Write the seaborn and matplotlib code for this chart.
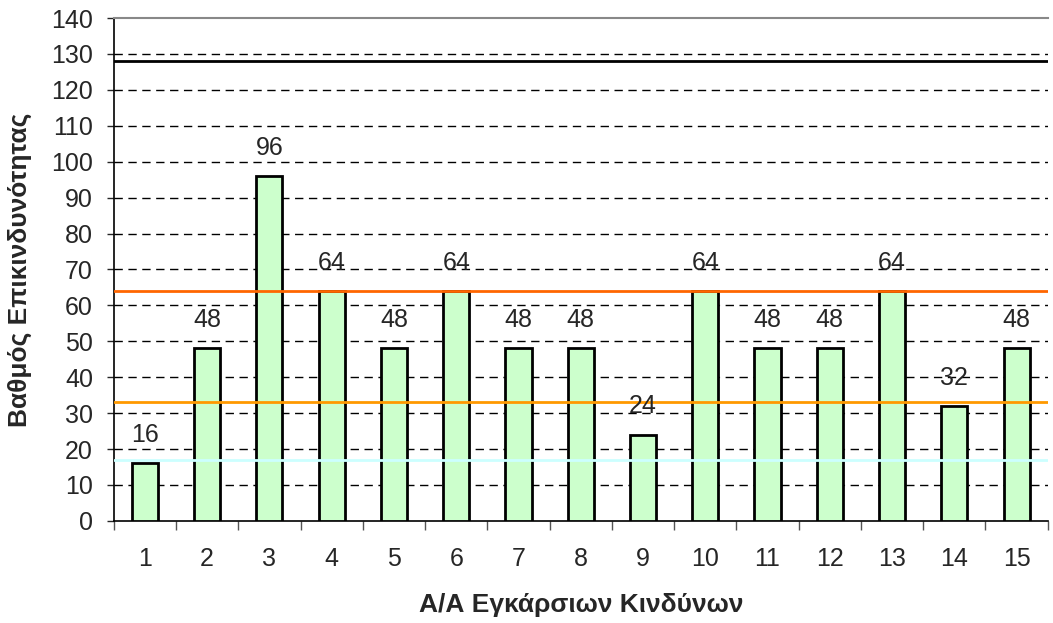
import matplotlib
matplotlib.use("Agg")
import matplotlib.pyplot as plt
import numpy as np
import pandas as pd
import seaborn as sns

# Δεδομένα
kindynoi = [str(i) for i in range(1, 16)]
vathmos = [16, 48, 96, 64, 48, 64, 48, 48, 24, 64, 48, 48, 64, 32, 48]

# οριζόντιες γραμμές ορίων
oria = [128, 64, 33, 17]
oria_xromata = ["black", "#ff6600", "#ff9900", "#ccffff"]

yticks = list(range(0, 141, 10))


def main():
    sns.set_theme(style="white")
    plt.rcParams["font.family"] = ["Liberation Sans", "DejaVu Sans"]

    df = pd.DataFrame({"kindynos": kindynoi, "vathmos": vathmos})

    fig = plt.figure(figsize=(10.53, 6.23), dpi=100)
    ax = fig.add_axes([0.108, 0.164, 0.887, 0.807])

    sns.barplot(data=df, x="kindynos", y="vathmos", ax=ax, color="#ccffcc",
                saturation=1, width=0.42, edgecolor="black", linewidth=2, zorder=3)

    for y, c in zip(oria, oria_xromata):
        ax.axhline(y, color=c, linewidth=2, zorder=4)

    for i, v in enumerate(vathmos):
        ax.text(i, v + 4.5, str(v), ha="center", va="bottom", fontsize=18, zorder=5)

    ax.set_ylim(0, 140)
    ax.set_xlim(-0.5, 14.5)
    ax.set_yticks(yticks)
    for y in yticks[1:-1]:
        ax.axhline(y, color="black", linewidth=1, linestyle=(0, (6, 4)), zorder=1)

    # σημάδια άξονα x στα όρια των κατηγοριών
    ax.set_xticks(np.arange(-0.5, 15, 1), minor=True)
    ax.tick_params(axis="x", which="major", length=0, labelsize=18, pad=19)
    ax.tick_params(axis="x", which="minor", length=6.5, width=1, color="#555555", direction="out",
                   bottom=True)
    ax.tick_params(axis="y", length=5, width=1, direction="out", left=True, labelsize=18, pad=10)

    for s in ["left", "bottom"]:
        ax.spines[s].set_color("black")
        ax.spines[s].set_linewidth(1.2)
    ax.spines["right"].set_visible(False)
    ax.spines["top"].set_color("#888888")
    ax.spines["top"].set_linewidth(1.5)

    ax.set_xlabel("Α/Α Εγκάρσιων Κινδύνων", fontsize=19, fontweight="bold", labelpad=16)
    ax.set_ylabel("Βαθμός Επικινδυνότητας", fontsize=19, fontweight="bold", labelpad=14)

    fig.savefig("out.png", dpi=100)


if __name__ == "__main__":
    main()
